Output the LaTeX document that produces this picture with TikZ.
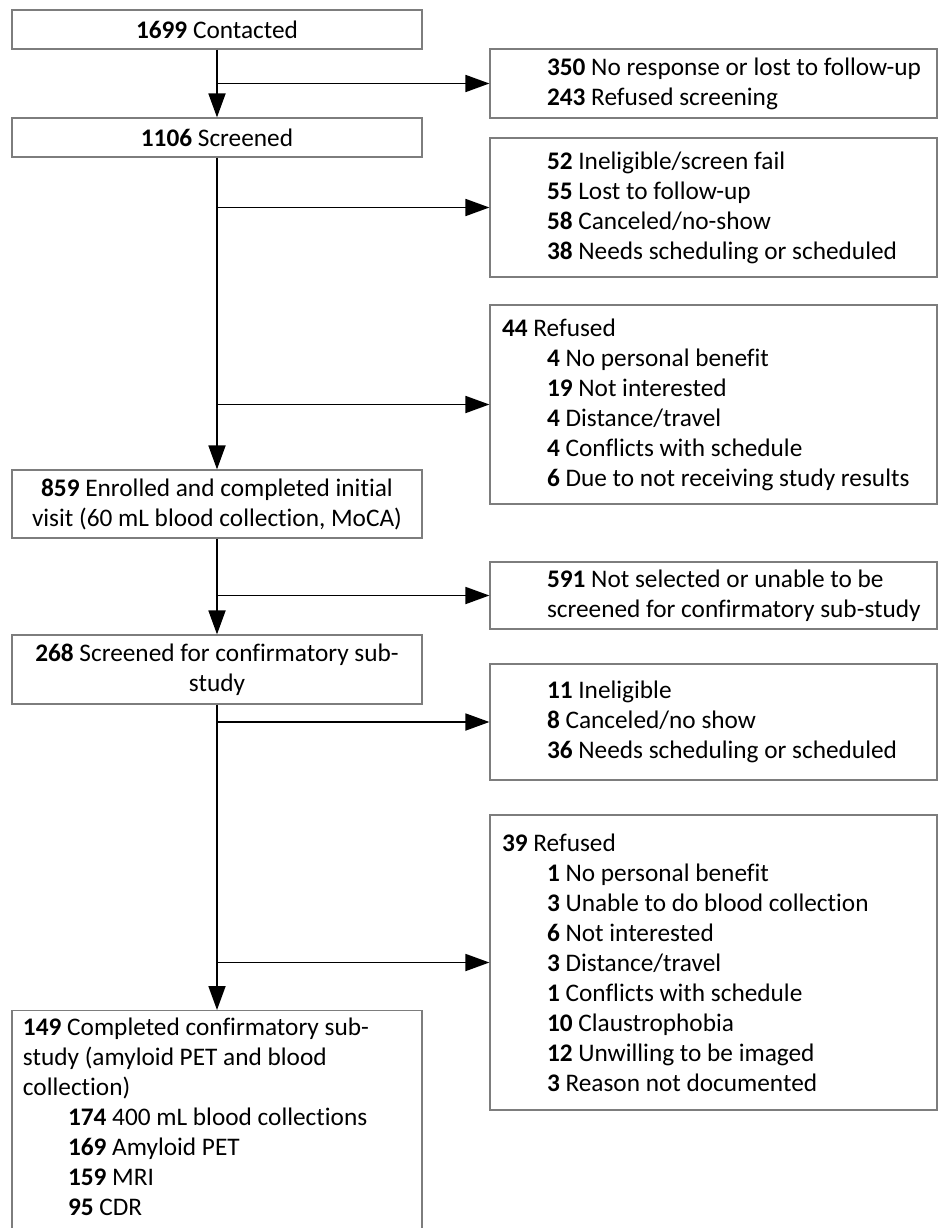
\documentclass[tikz,border=0pt]{standalone}
\usepackage{fontspec}
\setmainfont{Carlito}[Ligatures=NoCommon]
\usetikzlibrary{arrows.meta}
\definecolor{boxline}{RGB}{125,125,125}
\newcommand{\flowfont}{\fontsize{25.3}{30}\selectfont}
\newcommand{\reason}[2]{\hspace*{45pt}\textbf{#1} #2}

\begin{document}
\begin{tikzpicture}[
  x=1pt, y=-1pt,
  stage/.style={rectangle, draw=boxline, line width=1.2pt, align=center, font=\flowfont, inner sep=0pt, minimum width=410pt},
  exclude/.style={rectangle, draw=boxline, line width=1.2pt, align=flush left, font=\flowfont, inner xsep=12pt, inner ysep=0pt, text width=423pt, minimum width=447pt},
  arrow/.style={-{Triangle[length=24pt,width=17pt]}, line width=1.8pt},
]
\clip (0,0) rectangle (938,1228);

% === MAIN STAGES (left column) ===
\node[stage, minimum height=39pt] (contacted) at (217,29.5) {\textbf{1699} Contacted};
\node[stage, minimum height=39pt] (screened) at (217,137.5) {\textbf{1106} Screened};
\node[stage, minimum height=68pt] (enrolled) at (217,504) {\textbf{859} Enrolled and completed initial\\visit (60 mL blood collection, MoCA)};
\node[stage, minimum height=69pt] (subscreen) at (217,669.5) {\textbf{268} Screened for confirmatory sub-\\study};
\node[stage, anchor=north, align=flush left, inner xsep=11pt, inner ysep=7pt, text width=388pt] (completed) at (217,1010)
  {\textbf{149} Completed confirmatory sub-\\study (amyloid PET and blood\\collection)\\
   \reason{174}{400 mL blood collections}\\\reason{169}{Amyloid PET}\\\reason{159}{MRI}\\
   \reason{95}{CDR}\rule[-40pt]{0pt}{40pt}};

% === EXCLUSIONS (right column) ===
\node[exclude, minimum height=69pt] (nocontact) at (713.5,83.5)
  {\reason{350}{No response or lost to follow-up}\\\reason{243}{Refused screening}};
\node[exclude, minimum height=139pt] (screenout) at (713.5,207.5)
  {\reason{52}{Ineligible/screen fail}\\\reason{55}{Lost to follow-up}\\\reason{58}{Canceled/no-show}\\\reason{38}{Needs scheduling or scheduled}};
\node[exclude, minimum height=199pt] (refused) at (713.5,404.5)
  {\textbf{44} Refused\\\reason{4}{No personal benefit}\\\reason{19}{Not interested}\\\reason{4}{Distance/travel}\\\reason{4}{Conflicts with schedule}\\\reason{6}{Due to not receiving study results}};
\node[exclude, minimum height=67pt] (notselected) at (713.5,595.5)
  {\reason{591}{Not selected or unable to be}\\\hspace*{45pt}screened for confirmatory sub-study};
\node[exclude, minimum height=116pt] (subout) at (713.5,722)
  {\reason{11}{Ineligible}\\\reason{8}{Canceled/no show}\\\reason{36}{Needs scheduling or scheduled}};
\node[exclude, minimum height=295pt] (subrefused) at (713.5,962.5)
  {\textbf{39} Refused\\\reason{1}{No personal benefit}\\\reason{3}{Unable to do blood collection}\\\reason{6}{Not interested}\\\reason{3}{Distance/travel}\\\reason{1}{Conflicts with schedule}\\\reason{10}{Claustrophobia}\\\reason{12}{Unwilling to be imaged}\\\reason{3}{Reason not documented}};

% === CONNECTORS ===
\draw[arrow] (contacted) -- (screened);
\draw[arrow] (screened) -- (enrolled);
\draw[arrow] (enrolled) -- (subscreen);
\draw[arrow] (subscreen) -- (completed);
\draw[arrow] (contacted.south |- nocontact.west) -- (nocontact.west);
\draw[arrow] (screened.south |- screenout.west) -- (screenout.west);
\draw[arrow] (screened.south |- refused.west) -- (refused.west);
\draw[arrow] (enrolled.south |- notselected.west) -- (notselected.west);
\draw[arrow] (subscreen.south |- subout.west) -- (subout.west);
\draw[arrow] (subscreen.south |- subrefused.west) -- (subrefused.west);
\end{tikzpicture}
\end{document}
